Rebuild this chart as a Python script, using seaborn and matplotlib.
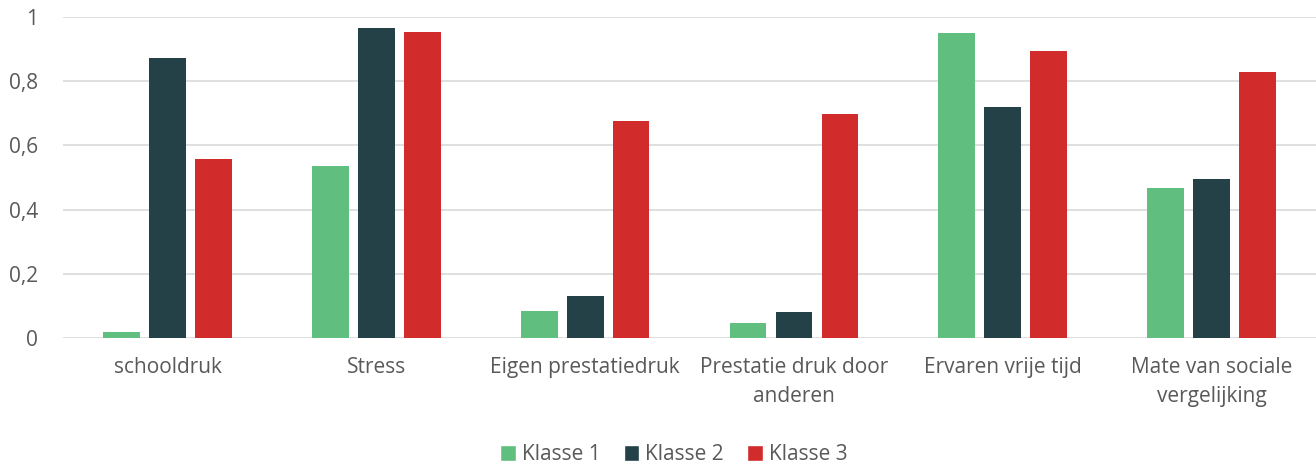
import numpy as np
import pandas as pd
import matplotlib
matplotlib.use("Agg")
import matplotlib.pyplot as plt
import seaborn as sns

# ── data ────────────────────────────────────────────────────────────────
categories = ["schooldruk", "Stress", "Eigen prestatiedruk",
              "Prestatie druk door\nanderen", "Ervaren vrije tijd",
              "Mate van sociale\nvergelijking"]
klasse_1 = [0.019, 0.536, 0.084, 0.047, 0.950, 0.467]
klasse_2 = [0.872, 0.966, 0.131, 0.081, 0.720, 0.495]
klasse_3 = [0.558, 0.953, 0.676, 0.698, 0.894, 0.829]
series_names = ["Klasse 1", "Klasse 2", "Klasse 3"]
y_ticks = [0, 0.2, 0.4, 0.6, 0.8, 1.0]
y_tick_labels = ["0", "0,2", "0,4", "0,6", "0,8", "1"]

colors = ["#60BE7E", "#244148", "#D12B2B"]

df = pd.DataFrame({
    "categorie": categories * 3,
    "waarde": klasse_1 + klasse_2 + klasse_3,
    "klasse": [s for s in series_names for _ in categories],
})

# ── plot ────────────────────────────────────────────────────────────────
sns.set_theme(style="white")
plt.rcParams["font.family"] = ["Open Sans", "DejaVu Sans"]
text_col = "#595959"
fs = 15

fig = plt.figure(figsize=(13.16, 4.63), dpi=100)
ax = fig.add_axes([0.048, 0.27, 0.952, 0.693])

sns.barplot(data=df, x="categorie", y="waarde", hue="klasse",
            palette=colors, saturation=1, width=0.66, ax=ax,
            order=categories, hue_order=series_names, legend=True)

# leave a small gap between the bars of one group
for p in ax.patches:
    w = p.get_width()
    if w == 0:
        continue
    new_w = w * 0.8
    p.set_x(p.get_x() + (w - new_w) / 2)
    p.set_width(new_w)
    p.set_edgecolor("none")

ax.set_ylim(0, 1)
ax.set_xlim(-0.5, len(categories) - 0.5)
ax.set_yticks(y_ticks)
ax.set_yticklabels(y_tick_labels)
ax.yaxis.grid(True, color="#D9D9D9", lw=1.2)
ax.set_axisbelow(True)
for s in ax.spines.values():
    s.set_visible(False)
ax.tick_params(axis="y", length=0, pad=18, labelsize=fs, labelcolor=text_col)
ax.tick_params(axis="x", length=0, pad=14, labelsize=fs, labelcolor=text_col)
for t in ax.get_xticklabels():
    t.set_linespacing(1.45)
ax.set_xlabel("")
ax.set_ylabel("")

handles, labels = ax.get_legend_handles_labels()
ax.legend_.remove()
fig.legend(handles, labels, loc="center", bbox_to_anchor=(0.512, 0.018),
           ncol=3, frameon=False, fontsize=fs, handlelength=0.75,
           handleheight=0.75, handletextpad=0.3, columnspacing=1.1,
           labelcolor=text_col)

fig.savefig("out.png", dpi=100)
